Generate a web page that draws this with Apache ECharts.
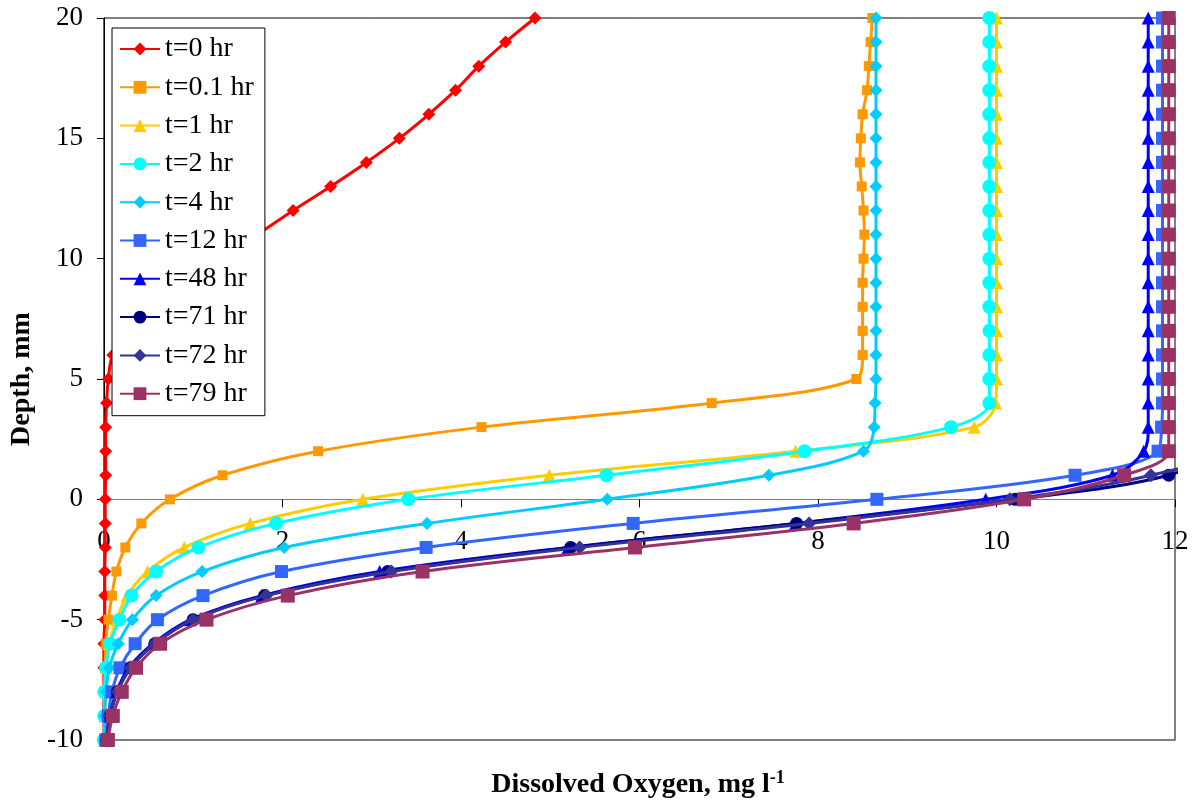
<!DOCTYPE html>
<html>
<head>
<meta charset="utf-8">
<script src="https://cdn.jsdelivr.net/npm/echarts@6/dist/echarts.min.js"></script>
<style>
html,body{margin:0;padding:0;background:#fff;}
#chart{width:1196px;height:805px;}
</style>
</head>
<body>
<div id="chart"></div>
<script>
// Depth (mm), from -10 to 20
const depths = [-10,-9,-8,-7,-6,-5,-4,-3,-2,-1,0,1,2,3,4,5,6,7,8,9,10,11,12,13,14,15,16,17,18,19,20];

// Dissolved oxygen (mg/l) for each depth above
const do_t0   = [0,0,0,0,0,0.01,0.01,0.01,0.015,0.015,0.015,0.02,0.02,0.02,0.03,0.05,0.1,0.3,0.6,0.95,1.3,1.72,2.12,2.54,2.94,3.31,3.64,3.94,4.2,4.5,4.83];
const do_t01  = [0.01,0.01,0.01,0.015,0.02,0.05,0.09,0.14,0.24,0.42,0.74,1.33,2.4,4.23,6.81,8.43,8.5,8.5,8.5,8.5,8.51,8.52,8.51,8.49,8.47,8.48,8.5,8.55,8.57,8.59,8.61];
const do_t1   = [0.01,0.01,0.02,0.03,0.06,0.145,0.26,0.49,0.9,1.64,2.9,4.99,7.75,9.75,9.99,10,10,10,10,10,10,10,10,10,10,10,10,10,10,10,10];
const do_t2   = [0,0.005,0.005,0.025,0.07,0.175,0.31,0.585,1.06,1.93,3.41,5.63,7.85,9.49,9.92,9.92,9.92,9.92,9.92,9.92,9.92,9.92,9.92,9.92,9.92,9.92,9.92,9.92,9.92,9.92,9.92];
const do_t4   = [0.01,0.01,0.025,0.06,0.16,0.32,0.585,1.1,2.02,3.62,5.64,7.45,8.51,8.63,8.64,8.65,8.65,8.65,8.65,8.65,8.65,8.65,8.65,8.65,8.65,8.65,8.65,8.65,8.65,8.65,8.65];
const do_t12  = [0.02,0.05,0.09,0.18,0.35,0.6,1.11,1.99,3.61,5.93,8.66,10.88,11.81,11.85,11.86,11.86,11.86,11.86,11.86,11.86,11.86,11.86,11.86,11.86,11.86,11.86,11.86,11.86,11.86,11.86,11.86];
const do_t48  = [0.03,0.07,0.14,0.28,0.55,0.97,1.77,3.09,5.2,7.75,9.88,11.3,11.65,11.7,11.7,11.7,11.7,11.7,11.7,11.7,11.7,11.7,11.7,11.7,11.7,11.7,11.7,11.7,11.7,11.7,11.7];
const do_t71  = [0.03,0.07,0.15,0.3,0.57,1.0,1.8,3.18,5.23,7.76,10.21,11.93,12.3,12.3,12.3,12.3,12.3,12.3,12.3,12.3,12.3,12.3,12.3,12.3,12.3,12.3,12.3,12.3,12.3,12.3,12.3];
const do_t72  = [0.03,0.07,0.15,0.3,0.57,1.0,1.82,3.22,5.33,7.9,10.15,11.73,12.4,12.4,12.4,12.4,12.4,12.4,12.4,12.4,12.4,12.4,12.4,12.4,12.4,12.4,12.4,12.4,12.4,12.4,12.4];
const do_t79  = [0.045,0.1,0.2,0.36,0.63,1.15,2.06,3.57,5.95,8.4,10.31,11.43,11.93,11.93,11.93,11.93,11.93,11.93,11.93,11.93,11.93,11.93,11.93,11.93,11.93,11.93,11.93,11.93,11.93,11.93,11.93];

const seriesNames = ['t=0 hr','t=0.1 hr','t=1 hr','t=2 hr','t=4 hr','t=12 hr','t=48 hr','t=71 hr','t=72 hr','t=79 hr'];
const seriesValues = [do_t0,do_t01,do_t1,do_t2,do_t4,do_t12,do_t48,do_t71,do_t72,do_t79];
const seriesColors = ['#FF0000','#FF9900','#FFCC00','#00FFFF','#00CCFF','#3366FF','#0000FF','#000080','#333399','#993366'];
const seriesSymbols = ['diamond','rect','triangle','circle','diamond','rect','triangle','circle','diamond','rect'];
const seriesSymbolSizes = [13,10,13,14,13,13,13,13,14,14];

const xTicks = {min:0, max:12, interval:2};
const yTicks = {min:-10, max:20, interval:5};

const FONT = "'Liberation Serif', 'Times New Roman', serif";

const GRID = {left: 102, right: 21, top: 18, bottom: 65};
const plotH = 805 - GRID.top - GRID.bottom;
const zeroOffset = -plotH * (0 - yTicks.min) / (yTicks.max - yTicks.min);

const series = seriesNames.map((name, i) => ({
  name: name,
  type: 'line',
  smooth: 0.35,
  clip: true,
  data: seriesValues[i].map((v, k) => [v, depths[k]]),
  symbol: seriesSymbols[i],
  symbolSize: seriesSymbolSizes[i],
  showAllSymbol: true,
  lineStyle: {color: seriesColors[i], width: 3},
  itemStyle: {color: seriesColors[i], borderWidth: 0},
  emphasis: {disabled: true},
  z: 2 + i * 0.01
}));

const chart = echarts.init(document.getElementById('chart'), null, {renderer: 'canvas'});
chart.setOption({
  animation: false,
  backgroundColor: '#fff',
  textStyle: {fontFamily: FONT},
  grid: Object.assign({show: true, borderColor: '#000', borderWidth: 1, backgroundColor: 'transparent'}, GRID),
  legend: {
    orient: 'vertical',
    left: 112, top: 28,
    backgroundColor: '#fff',
    borderColor: '#000', borderWidth: 1, borderRadius: 0,
    padding: [7, 11, 8, 7],
    itemWidth: 40, itemHeight: 16, itemGap: 10.3,
    textStyle: {fontFamily: FONT, fontSize: 28, color: '#000', lineHeight: 28},
    data: seriesNames,
    z: 10
  },
  xAxis: [{
    type: 'value',
    position: 'bottom',
    offset: zeroOffset,
    min: xTicks.min, max: xTicks.max, interval: xTicks.interval,
    axisLine: {show: true, onZero: false, lineStyle: {color: '#808080', width: 1}},
    axisTick: {show: true, inside: false, length: 8, lineStyle: {color: '#000', width: 1}},
    axisLabel: {fontFamily: FONT, fontSize: 27, color: '#000', margin: 29},
    splitLine: {show: false}
  }],
  yAxis: [{
    type: 'value',
    min: yTicks.min, max: yTicks.max, interval: yTicks.interval,
    name: 'Depth, mm',
    nameLocation: 'middle', nameGap: 67, nameRotate: 90,
    nameTextStyle: {fontFamily: FONT, fontSize: 28, fontWeight: 'bold', color: '#000'},
    axisLine: {show: true, onZero: false, lineStyle: {color: '#000', width: 1}},
    axisTick: {show: true, inside: false, length: 7, lineStyle: {color: '#000', width: 1}},
    axisLabel: {fontFamily: FONT, fontSize: 27, color: '#000', margin: 21},
    splitLine: {show: false}
  }, {
    type: 'value', position: 'right',
    min: yTicks.min, max: yTicks.max, interval: yTicks.interval,
    axisLine: {show: true, onZero: false, lineStyle: {color: '#808080', width: 1}},
    axisTick: {show: false}, axisLabel: {show: false}, splitLine: {show: false}
  }],
  graphic: [{
    type: 'text',
    x: 638, y: 785,
    style: {
      text: '{a|Dissolved Oxygen, mg l}{b|-1}',
      align: 'center', verticalAlign: 'middle',
      rich: {
        a: {fontFamily: FONT, fontSize: 28, fontWeight: 'bold', fill: '#000', color: '#000'},
        b: {fontFamily: FONT, fontSize: 18, fontWeight: 'bold', fill: '#000', color: '#000', padding: [0, 0, 14, 0]}
      }
    }
  }],
  series: series
});
</script>
</body>
</html>
